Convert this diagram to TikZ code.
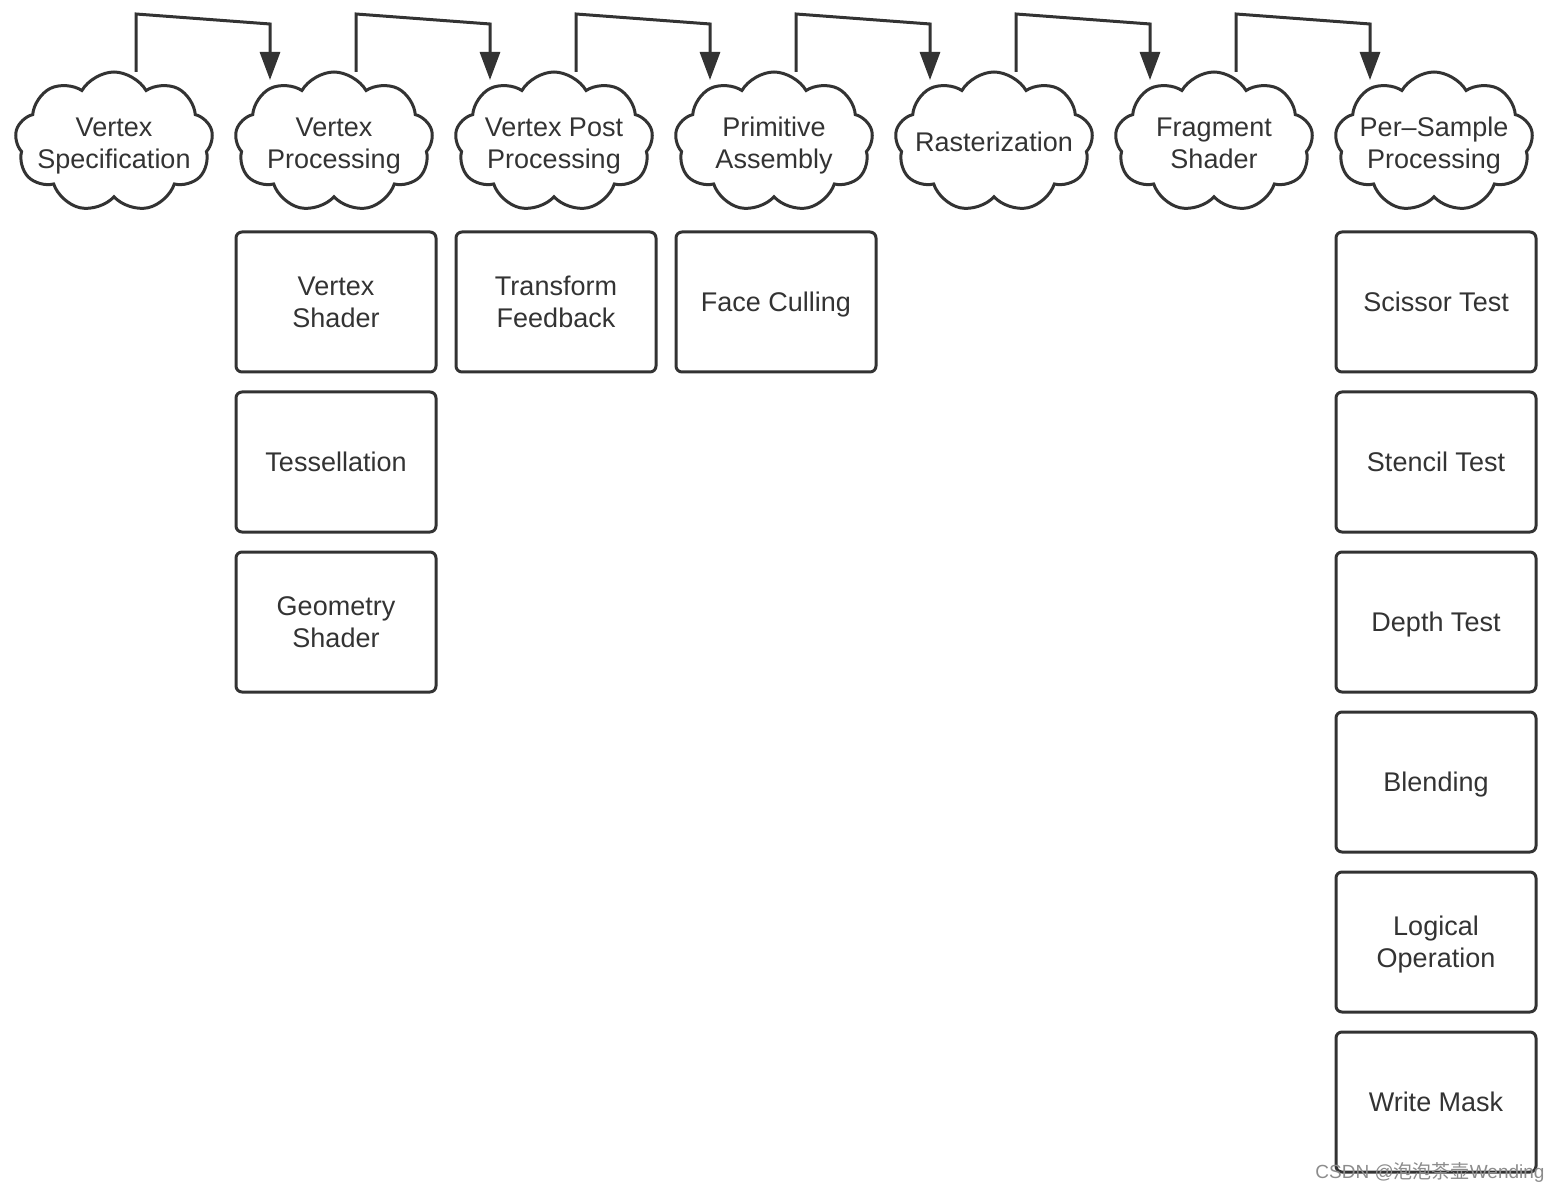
\documentclass[tikz,border=0pt]{standalone}
\usepackage{fontspec}
\setmainfont{Liberation Sans}
\newfontfamily\cjkwm{Noto Sans CJK SC}
\usetikzlibrary{shapes.symbols,arrows.meta,calc}
\definecolor{ink}{HTML}{333333}
\newcommand{\tallstrut}{\rule{0pt}{13.5pt}}
\newcommand{\deepstrut}{\rule[-2.8pt]{0pt}{2.8pt}}
\newcommand{\zw}[1]{\makebox[0pt]{#1}}
\begin{document}
\begin{tikzpicture}[x=0.5pt,y=-0.5pt,
  every node/.style={font=\fontsize{13.5}{16}\selectfont, text=ink, align=center},
  puff/.style={draw=ink, line width=1.5pt, cloud, cloud puffs=9, cloud puff arc=120,
    cloud ignores aspect, minimum width=99pt, minimum height=70pt, inner sep=0pt},
  stage/.style={draw=ink, line width=1.5pt, rounded corners=3pt, rectangle,
    minimum width=100pt, minimum height=70pt, inner sep=0pt, text depth=0pt},
  flow/.style={draw=ink, line width=1.5pt, -{Triangle[length=14pt,width=10pt]}}]
\useasboundingbox (0,0) rectangle (1558,1192);
% clouds
\node[puff] (c1) at (114,142) {\zw{\tallstrut Vertex}\\\zw{Specification}};
\node[puff] (c2) at (334,142) {\zw{\tallstrut Vertex}\\\zw{Processing}};
\node[puff] (c3) at (554,142) {\zw{\tallstrut Vertex Post}\\\zw{Processing}};
\node[puff] (c4) at (774,142) {\zw{\tallstrut Primitive}\\\zw{Assembly}};
\node[puff] (c5) at (994,142) {\zw{Rasterization}};
\node[puff] (c6) at (1214,142) {\zw{\tallstrut Fragment}\\\zw{Shader\deepstrut}};
\node[puff] (c7) at (1434,142) {\zw{\tallstrut Per\textendash Sample}\\\zw{Processing}};
% arrows
\foreach \a/\b in {c1/c2,c2/c3,c3/c4,c4/c5,c5/c6,c6/c7}{
  \draw[flow] ($(\a.center)+(22,-70)$) -- ($(\a.center)+(22,-128)$)
    -- ($(\b.center)+(-64,-118)$) -- ($(\b.center)+(-64,-62)$);
}
% boxes
\node[stage] (vs) at (336,302) {Vertex\\Shader};
\node[stage] (ts) at (336,462) {Tessellation};
\node[stage] (gs) at (336,622) {Geometry\\Shader};
\node[stage] (tf) at (556,302) {Transform\\Feedback};
\node[stage] (fc) at (776,302) {Face Culling};
\node[stage] (st) at (1436,302) {Scissor Test};
\node[stage] (sn) at (1436,462) {Stencil Test};
\node[stage] (dt) at (1436,622) {Depth Test};
\node[stage] (bl) at (1436,782) {Blending};
\node[stage] (lo) at (1436,942) {Logical\\Operation};
\node[stage] (wm) at (1436,1102) {Write Mask};
% watermark
\node[font=\fontsize{9.5}{11}\selectfont, text=black!45] (wmk) at (1430,1172) {CSDN @{\cjkwm 泡泡茶壶}Wending};
\end{tikzpicture}
\end{document}
